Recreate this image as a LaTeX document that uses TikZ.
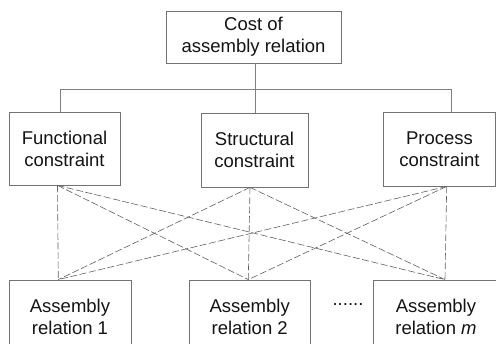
\documentclass[tikz,border=0pt]{standalone}
\usepackage{fontspec}
\setmainfont{Liberation Sans}
\begin{document}
\begin{tikzpicture}[x=1pt,y=-1pt,
  box/.style={draw=black!55,line width=0.8pt,fill=white,align=center,inner sep=0pt,
    font=\fontsize{18.5}{22}\selectfont,text=black!92},
  tree/.style={draw=black!50,line width=0.9pt},
  link/.style={draw=black!62,line width=0.6pt,dash pattern=on 7pt off 2.5pt}]
\clip (0,0) rectangle (496,344);
\fill[white] (0,0) rectangle (496,344);
\node[box,minimum width=175,minimum height=52] (top) at (253.5,37) {Cost of\\assembly relation};
\node[box,minimum width=111,minimum height=73] (F) at (64.5,148.5) {Functional\\constraint};
\node[box,minimum width=107,minimum height=74] (S) at (254.5,150) {Structural\\constraint};
\node[box,minimum width=112,minimum height=74] (P) at (439.5,149) {Process\\constraint};
\node[box,minimum width=122,minimum height=74] (A1) at (70,317) {Assembly\\relation 1};
\node[box,minimum width=121,minimum height=74] (A2) at (249.7,317) {Assembly\\relation 2};
\node[box,minimum width=125,minimum height=74] (Am) at (436,317) {Assembly\\relation \textit{m}};
\node[font=\fontsize{18.5}{22}\selectfont,text=black!92] (dots) at (348,305) {......};
% tree
\coordinate (h) at (255,89.5);
\coordinate (hl) at (60.7,89.5);
\coordinate (hr) at (451.3,89.5);
\draw[tree] (top.south -| h) -- (h);
\draw[tree] (hl) -- (hr);
\draw[tree] (hl) -- (hl |- F.north);
\draw[tree] (h) -- (h |- S.north);
\draw[tree] (hr) -- (hr |- P.north);
% dashed links
\coordinate (f) at ([xshift=-7pt]F.south);
\coordinate (s) at ([xshift=-4.5pt]S.south);
\coordinate (p) at ([xshift=7.2pt]P.south);
\coordinate (a1) at ([xshift=-11.7pt]A1.north);
\coordinate (a2) at ([xshift=-1.4pt]A2.north);
\coordinate (am) at ([xshift=9pt]Am.north);
\foreach \u in {f,s,p}{
  \foreach \l in {a1,a2,am}{
    \draw[link] (\u) -- (\l);
  }
}
\end{tikzpicture}
\end{document}
